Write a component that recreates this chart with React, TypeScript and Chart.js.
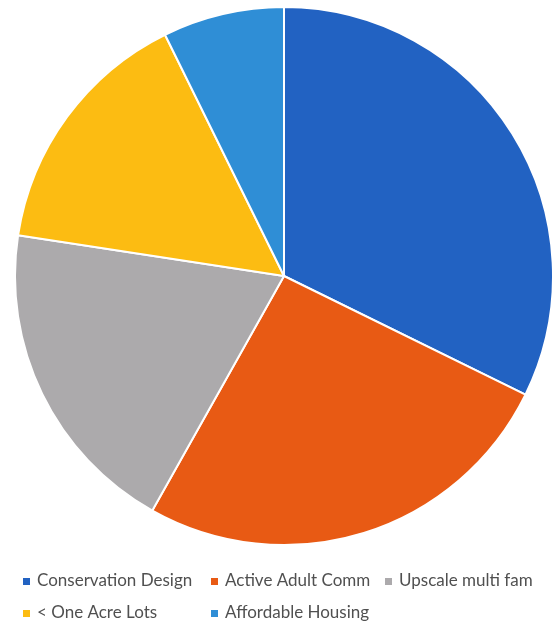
import React, { useEffect, useRef } from "react";
import { Chart, registerables } from "chart.js";

Chart.register(...registerables);

const categories = [
  "Conservation Design",
  "Active Adult Comm",
  "Upscale multi fam",
  "< One Acre Lots",
  "Affordable Housing",
];
const values = [32.3, 25.9, 19.3, 15.3, 7.3];
const colors = ["#2262C2", "#E85A14", "#ACAAAC", "#FCBC12", "#2F8ED6"];

// legend grid: [column x, row y] per item index
const legendCols = [23, 211, 385];
const legendRows = [581, 613];

const gridLegend = {
  id: "gridLegend",
  afterDraw(chart: any) {
    const ctx = chart.ctx;
    const labels: string[] = chart.data.labels;
    const bg: string[] = chart.data.datasets[0].backgroundColor;
    ctx.save();
    ctx.font = '17px Lato, "Open Sans", sans-serif';
    ctx.textBaseline = "middle";
    ctx.textAlign = "left";
    labels.forEach((lab, i) => {
      const col = i % 3;
      const row = Math.floor(i / 3);
      const x = legendCols[col];
      const y = legendRows[row];
      ctx.fillStyle = bg[i];
      ctx.fillRect(x, y - 3, 7, 7);
      ctx.fillStyle = "#505050";
      ctx.fillText(lab, x + 14, y);
    });
    ctx.restore();
  },
};

export default function App() {
  const ref = useRef<HTMLCanvasElement>(null);
  useEffect(() => {
    document.body.style.margin = "0";
    const chart = new Chart(ref.current!, {
      type: "pie",
      data: {
        labels: categories,
        datasets: [
          {
            data: values,
            backgroundColor: colors,
            borderColor: "#ffffff",
            borderWidth: 2,
            hoverOffset: 0,
            radius: 269,
          } as any,
        ],
      },
      options: {
        animation: false,
        responsive: false,
        layout: { padding: { left: 15, right: 3, top: 7, bottom: 80 } },
        plugins: {
          legend: { display: false },
          tooltip: { enabled: false },
        },
      },
      plugins: [gridLegend],
    });
    return () => chart.destroy();
  }, []);
  return (
    <div style={{ position: "absolute", left: 0, top: 0, width: 556, height: 625, background: "#fff" }}>
      <canvas ref={ref} width={556} height={625} style={{ width: 556, height: 625 }} />
    </div>
  );
}
